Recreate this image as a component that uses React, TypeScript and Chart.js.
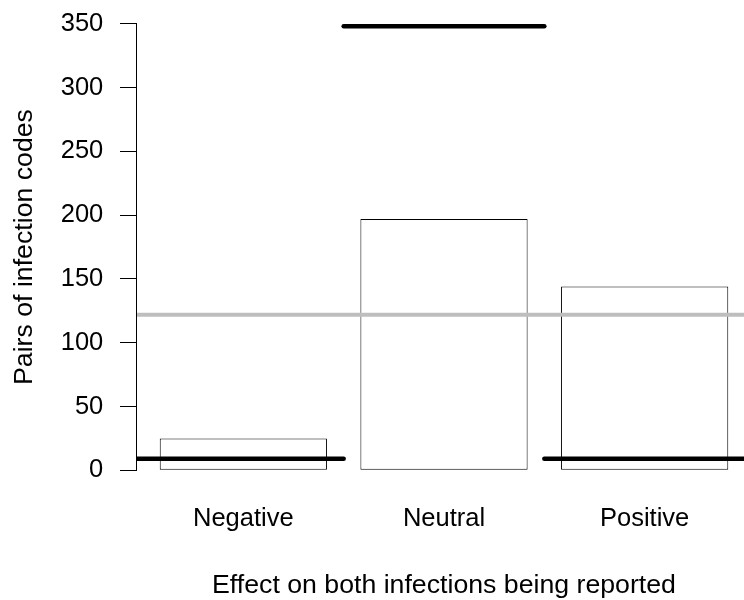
import { useEffect, useRef } from 'react';
import { Chart, registerables } from 'chart.js';

Chart.register(...registerables);

// Observed and expected counts of infection-code pairs by effect type
const categories = ['Negative', 'Neutral', 'Positive'];
const observedPairs = [25, 197, 144];
const expectedPairs = [9, 348, 9];
const yTickValues = [0, 50, 100, 150, 200, 250, 300, 350];

// Bar layout in x units: unit-width bars separated by 0.2
const BAR_WIDTH = 1;
const BAR_SPACE = 0.2;
const barCenters = categories.map((_, i) => BAR_SPACE * (i + 1) + BAR_WIDTH * (i + 0.5));
const xLow = BAR_SPACE;
const xHigh = barCenters[barCenters.length - 1] + BAR_WIDTH / 2;
const xExt = (xHigh - xLow) * 0.04;
const X_MIN = xLow - xExt;
const X_MAX = xHigh + xExt;

const yTop = yTickValues[yTickValues.length - 1];
const yExt = yTop * 0.04;
const Y_MIN = -yExt;
const Y_MAX = yTop + yExt;

const meanPairs = observedPairs.reduce((a, b) => a + b, 0) / observedPairs.length;

const FONT = "'Liberation Sans', Arial, Helvetica, sans-serif";

// Expected-count segments run between the midpoints of neighbouring bars
const expectedSegments = expectedPairs.map((v, i) => {
  const lo = i === 0 ? X_MIN : (barCenters[i - 1] + barCenters[i]) / 2;
  const hi = i === expectedPairs.length - 1 ? X_MAX : (barCenters[i] + barCenters[i + 1]) / 2;
  return [
    { x: lo, y: v },
    { x: hi, y: v },
  ];
});

// Draws the y axis line only across the tick range
const yAxisLine = {
  id: 'yAxisLine',
  beforeDatasetsDraw(chart: any) {
    const ys = chart.scales.y;
    const ctx = chart.ctx;
    const x = Math.round(chart.chartArea.left) - 0.5;
    ctx.save();
    ctx.strokeStyle = '#000';
    ctx.lineWidth = 1;
    ctx.beginPath();
    ctx.moveTo(x, ys.getPixelForValue(yTickValues[0]));
    ctx.lineTo(x, ys.getPixelForValue(yTop));
    ctx.stroke();
    ctx.restore();
  },
};

export default function App() {
  const canvasRef = useRef<HTMLCanvasElement | null>(null);

  useEffect(() => {
    const canvas = canvasRef.current;
    if (!canvas) return;

    const lineDefaults = {
      type: 'line' as const,
      pointRadius: 0,
      pointHoverRadius: 0,
      fill: false,
      tension: 0,
      clip: 0,
    };

    const chart = new Chart(canvas, {
      type: 'bar',
      data: {
        datasets: [
          {
            type: 'bar',
            label: 'Observed',
            data: observedPairs.map((v, i) => ({ x: barCenters[i], y: v })),
            backgroundColor: '#ffffff',
            borderColor: '#000000',
            borderWidth: 1,
            borderSkipped: false,
            barPercentage: 1,
            categoryPercentage: BAR_WIDTH / (BAR_WIDTH + BAR_SPACE),
            order: 3,
          } as any,
          {
            ...lineDefaults,
            label: 'Mean',
            data: [
              { x: X_MIN, y: meanPairs },
              { x: X_MAX, y: meanPairs },
            ],
            borderColor: '#bebebe',
            borderWidth: 4,
            borderCapStyle: 'butt',
            order: 2,
          } as any,
          ...expectedSegments.map(
            (seg, i) =>
              ({
                ...lineDefaults,
                label: 'Expected ' + categories[i],
                data: seg,
                borderColor: '#000000',
                borderWidth: 4.5,
                borderCapStyle: 'round',
                order: 1,
              }) as any
          ),
        ],
      },
      options: {
        animation: false,
        responsive: false,
        devicePixelRatio: 1,
        layout: { padding: { top: 5.84, bottom: 0, left: 0, right: 0 } },
        plugins: {
          legend: { display: false },
          tooltip: { enabled: false },
        },
        scales: {
          x: {
            type: 'linear',
            min: X_MIN,
            max: X_MAX,
            offset: false,
            grid: { display: false, drawTicks: false },
            border: { display: false },
            afterBuildTicks: (scale: any) => {
              scale.ticks = barCenters.map((v) => ({ value: v }));
            },
            afterFit: (scale: any) => {
              scale.height = 111.8;
              scale.paddingLeft = 0;
              scale.paddingRight = 0;
            },
            ticks: {
              autoSkip: false,
              maxRotation: 0,
              minRotation: 0,
              padding: 15.7,
              color: '#000',
              font: { family: FONT, size: 25.5, lineHeight: 1.2 },
              callback: (_v: any, index: number) => categories[index],
            },
            title: {
              display: true,
              text: 'Effect on both infections being reported',
              color: '#000',
              font: { family: FONT, size: 26.7, lineHeight: 1 },
              padding: { top: 0, bottom: 1 },
            },
          },
          y: {
            type: 'linear',
            min: Y_MIN,
            max: Y_MAX,
            grid: {
              display: true,
              drawOnChartArea: false,
              drawTicks: true,
              tickLength: 17,
              color: '#000',
              lineWidth: 1,
            },
            border: { display: false },
            afterBuildTicks: (scale: any) => {
              scale.ticks = yTickValues.map((v) => ({ value: v }));
            },
            afterFit: (scale: any) => {
              scale.width = 137;
              scale.paddingTop = 0;
              scale.paddingBottom = 0;
            },
            ticks: {
              padding: 16.7,
              color: '#000',
              font: { family: FONT, size: 25.5, lineHeight: 1.2 },
              callback: (v: any) => String(v),
            },
            title: {
              display: true,
              text: 'Pairs of infection codes',
              color: '#000',
              font: { family: FONT, size: 26.7, lineHeight: 1 },
              padding: { top: 10.8, bottom: 0 },
            },
          },
        },
      },
      plugins: [yAxisLine],
    });

    return () => chart.destroy();
  }, []);

  return (
    <div
      style={{
        position: 'fixed',
        left: 0,
        top: 0,
        width: 744,
        height: 600,
        overflow: 'hidden',
        background: '#fff',
      }}
    >
      <canvas ref={canvasRef} width={751} height={600} style={{ display: 'block' }} />
    </div>
  );
}
